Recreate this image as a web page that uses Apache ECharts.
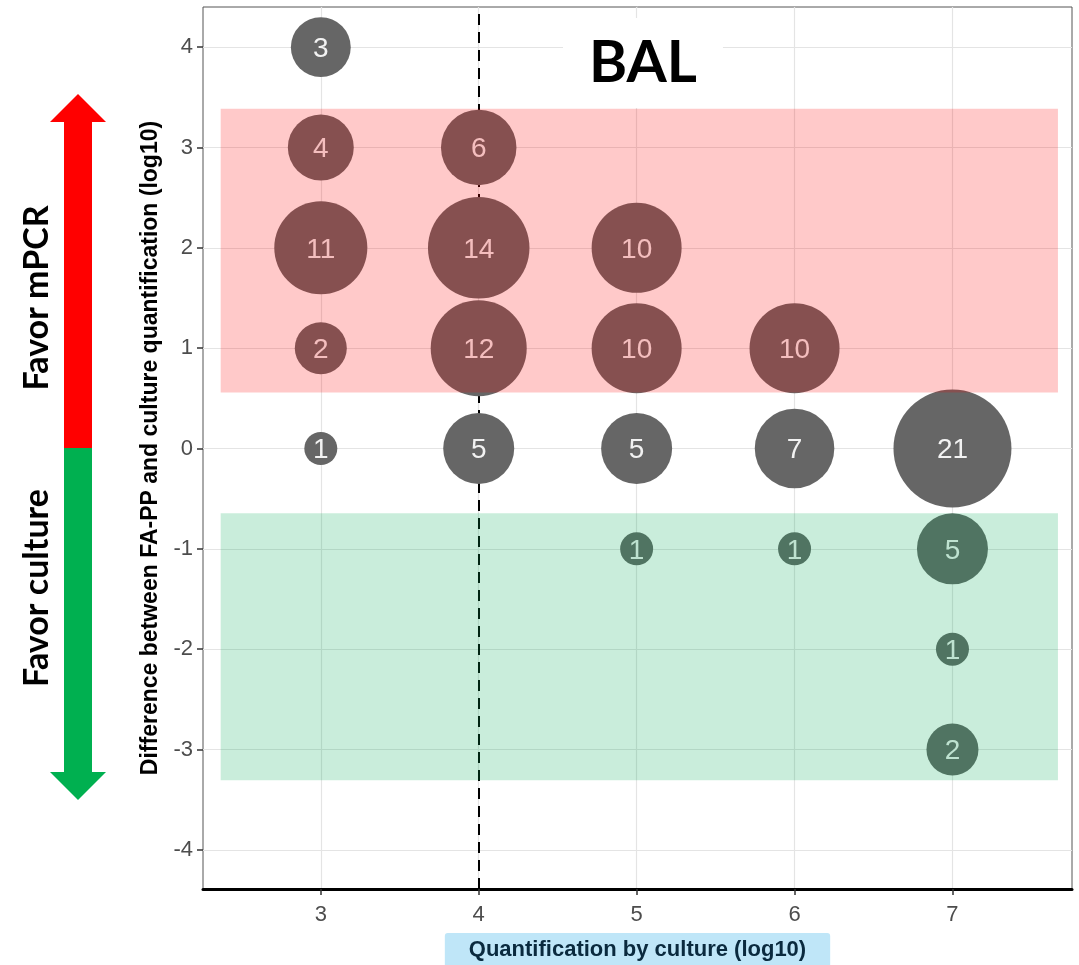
<!DOCTYPE html>
<html>
<head>
<meta charset="utf-8">
<title>BAL</title>
<script src="https://cdn.jsdelivr.net/npm/echarts@6/dist/echarts.min.js"></script>
<style>
  html, body { margin: 0; padding: 0; background: #fff; }
  #chart { width: 1079px; height: 965px; }
</style>
</head>
<body>
<div id="chart"></div>
<script>
// Quantification by culture (log10) for each bubble
const cultureLog = [3, 3, 4, 3, 4, 5, 3, 4, 5, 6, 3, 4, 5, 6, 7, 5, 6, 7, 7, 7];
// Difference between FA-PP and culture quantification (log10)
const diffLog    = [4, 3, 3, 2, 2, 2, 1, 1, 1, 1, 0, 0, 0, 0, 0, -1, -1, -1, -2, -3];
// Number of samples at each position
const counts     = [3, 4, 6, 11, 14, 10, 2, 12, 10, 10, 1, 5, 5, 7, 21, 1, 1, 5, 1, 2];

// Tick labels
const xTicks = [3, 4, 5, 6, 7];
const yTicks = [-4, -3, -2, -1, 0, 1, 2, 3, 4];

// Axis extents
const xRange = [2.254, 7.757];
const yRange = [-4.39, 4.40];

// Culture threshold (log10)
const thresholdX = 4;

// Shaded zones: [[x0, y0], [x1, y1]]
const mpcrZone    = [[2.366, 0.558], [7.668, 3.385]];
const cultureZone = [[2.366, -3.305], [7.668, -0.646]];

const FONT = "'Liberation Sans', Arial, Helvetica, sans-serif";
const HEAD_FONT = "Lato, 'Open Sans', sans-serif";

const bubbles = cultureLog.map((x, i) => [x, diffLog[i], counts[i]]);

const chart = echarts.init(document.getElementById('chart'), null, { renderer: 'canvas' });

const option = {
  animation: false,
  backgroundColor: '#fff',
  title: {
    text: 'BAL',
    left: 563,
    top: 18,
    backgroundColor: '#fff',
    padding: [16, 26, 16, 26],
    textStyle: { fontFamily: HEAD_FONT, fontWeight: 'bold', fontSize: 58, color: '#000' }
  },
  grid: {
    left: 203, right: 7, top: 7, bottom: 76,
    outerBoundsMode: 'none',
    containLabel: false,
    show: true, borderColor: '#555', borderWidth: 1
  },
  xAxis: {
    type: 'value',
    min: xRange[0], max: xRange[1],
    name: 'Quantification by culture (log10)',
    nameLocation: 'middle',
    nameGap: 44,
    nameTextStyle: {
      fontFamily: FONT, fontWeight: 'bold', fontSize: 22, color: '#0a2a3e',
      backgroundColor: '#bfe6f8', padding: [6, 24, 10, 24], borderRadius: 3
    },
    axisLine: { show: true, onZero: false, lineStyle: { color: '#000', width: 3 } },
    axisTick: { show: true, length: 6, customValues: xTicks, lineStyle: { color: '#333', width: 1.5 } },
    axisLabel: { customValues: xTicks, fontFamily: FONT, fontSize: 22, color: '#4d4d4d', margin: 15 },
    splitLine: { show: true, lineStyle: { color: '#e4e4e4', width: 1.2 } }
  },
  yAxis: {
    type: 'value',
    min: yRange[0], max: yRange[1],
    name: 'Difference between FA-PP and culture quantification (log10)',
    nameLocation: 'middle',
    nameGap: 40,
    nameTextStyle: { fontFamily: FONT, fontWeight: 'bold', fontSize: 23, color: '#000' },
    axisLine: { show: false, onZero: false },
    axisTick: { show: true, length: 6, customValues: yTicks, lineStyle: { color: '#333', width: 1.5 } },
    axisLabel: { customValues: yTicks, fontFamily: FONT, fontSize: 22, color: '#4d4d4d', margin: 10 },
    splitLine: { show: true, lineStyle: { color: '#e4e4e4', width: 1.2 } }
  },
  series: [
    {
      // dashed threshold line, behind the bubbles
      type: 'scatter',
      z: 1,
      silent: true,
      data: [],
      markLine: {
        z: 1,
        silent: true,
        symbol: 'none',
        label: { show: false },
        lineStyle: { color: '#000', width: 2, type: [11, 7] },
        data: [{ xAxis: thresholdX }]
      }
    },
    {
      type: 'scatter',
      z: 2,
      silent: true,
      data: bubbles,
      symbol: 'circle',
      symbolSize: v => 33 + 19 * Math.sqrt(v[2] - 1),
      itemStyle: { color: '#666666', opacity: 1 },
      label: {
        show: true,
        position: 'inside',
        formatter: p => String(p.value[2]),
        fontFamily: FONT,
        fontSize: 28,
        color: '#f2f2f2',
        offset: [0, 2]
      }
    },
    {
      // translucent zones drawn over the bubbles
      type: 'scatter',
      z: 10,
      silent: true,
      data: [],
      markArea: {
        z: 10,
        silent: true,
        label: { show: false },
        data: [
          [
            { coord: mpcrZone[0], itemStyle: { color: 'rgba(255,0,0,0.21)', borderWidth: 0 } },
            { coord: mpcrZone[1] }
          ],
          [
            { coord: cultureZone[0], itemStyle: { color: 'rgba(0,171,86,0.21)', borderWidth: 0 } },
            { coord: cultureZone[1] }
          ]
        ]
      }
    }
  ],
  graphic: [
    {
      type: 'polygon',
      shape: { points: [[64, 448], [92, 448], [92, 122], [106, 122], [78, 94], [50, 122], [64, 122]] },
      style: { fill: '#ff0000' },
      silent: true
    },
    {
      type: 'polygon',
      shape: { points: [[64, 448], [92, 448], [92, 772], [106, 772], [78, 800], [50, 772], [64, 772]] },
      style: { fill: '#00b050' },
      silent: true
    },
    {
      type: 'text',
      x: 37, y: 298,
      rotation: Math.PI / 2,
      style: {
        text: 'Favor mPCR',
        fontFamily: HEAD_FONT, fontWeight: 'bold', fontSize: 34,
        fill: '#000', align: 'center', verticalAlign: 'middle'
      },
      silent: true
    },
    {
      type: 'text',
      x: 37, y: 588,
      rotation: Math.PI / 2,
      style: {
        text: 'Favor culture',
        fontFamily: HEAD_FONT, fontWeight: 'bold', fontSize: 34,
        fill: '#000', align: 'center', verticalAlign: 'middle'
      },
      silent: true
    }
  ]
};

chart.setOption(option);
</script>
</body>
</html>
